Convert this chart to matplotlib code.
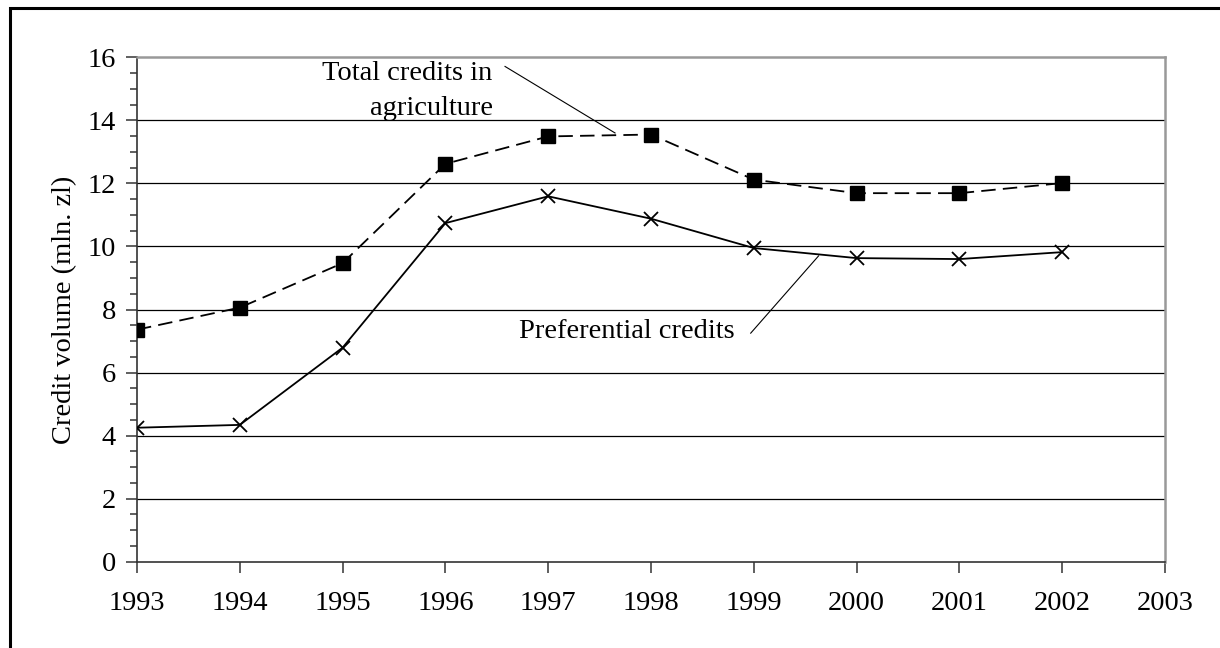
import matplotlib
matplotlib.use("Agg")
import matplotlib.pyplot as plt
from matplotlib.patches import Rectangle
from matplotlib.ticker import MultipleLocator

plt.rcParams['font.family'] = ['Liberation Serif', 'DejaVu Serif']

years = [1993, 1994, 1995, 1996, 1997, 1998, 1999, 2000, 2001, 2002]
total_credits = [7.36, 8.06, 9.47, 12.62, 13.49, 13.55, 12.12, 11.69, 11.69, 12.01]
preferential_credits = [4.25, 4.34, 6.79, 10.74, 11.59, 10.88, 9.95, 9.63, 9.60, 9.82]
year_ticks = list(range(1993, 2004))
y_ticks = list(range(0, 17, 2))

fig = plt.figure(figsize=(12.2, 6.48), dpi=100)
ax = fig.add_axes([137 / 1220, 1 - 561.7 / 648, (1165 - 137) / 1220, (561.7 - 57.3) / 648])

# сетка
for v in y_ticks[1:-1]:
    ax.axhline(v, color="black", lw=0.9, zorder=1)

ax.plot(years, total_credits, color="black", lw=1.3, dashes=(8, 4),
        marker="s", markersize=9.5, zorder=3)
ax.plot(years, preferential_credits, color="black", lw=1.3,
        marker="x", markersize=9.5, markeredgewidth=1.3, zorder=3)

ax.set_xlim(1993, 2003)
ax.set_ylim(0, 16)
ax.set_xticks(year_ticks)
ax.set_yticks(y_ticks)
ax.yaxis.set_minor_locator(MultipleLocator(0.5))
ax.tick_params(axis="both", direction="out", length=8, width=1.2, labelsize=20.5, color="#444444")
ax.tick_params(axis="x", pad=13)
ax.tick_params(axis="y", pad=7)
ax.tick_params(axis="y", which="minor", direction="out", length=5, width=1.2, color="#444444")

for side in ["top", "right"]:
    ax.spines[side].set_color("#999999")
    ax.spines[side].set_linewidth(1.8)
for side in ["left", "bottom"]:
    ax.spines[side].set_color("#333333")
    ax.spines[side].set_linewidth(1.2)

ax.set_ylabel("Credit volume (mln. zl)", fontsize=20.5, labelpad=8)

# подписи линий
ax.text(1996.46, 14.93, "Total credits in\nagriculture", fontsize=20.5,
        ha="right", va="center", linespacing=1.5)
ax.plot([1996.58, 1997.65], [15.71, 13.6], color="black", lw=0.8, zorder=2)

ax.text(1997.76, 7.29, "Preferential credits", fontsize=20.5, ha="center", va="center")
ax.plot([1998.97, 1999.63], [7.25, 9.70], color="black", lw=0.8, zorder=2)

# внешняя рамка
fig.add_artist(Rectangle((10 / 1220, -0.1), 1.2, (648 - 8) / 648 + 0.1,
                         transform=fig.transFigure, fill=False, lw=2.2, color="black"))

fig.savefig("out.png", dpi=100)
plt.close(fig)
